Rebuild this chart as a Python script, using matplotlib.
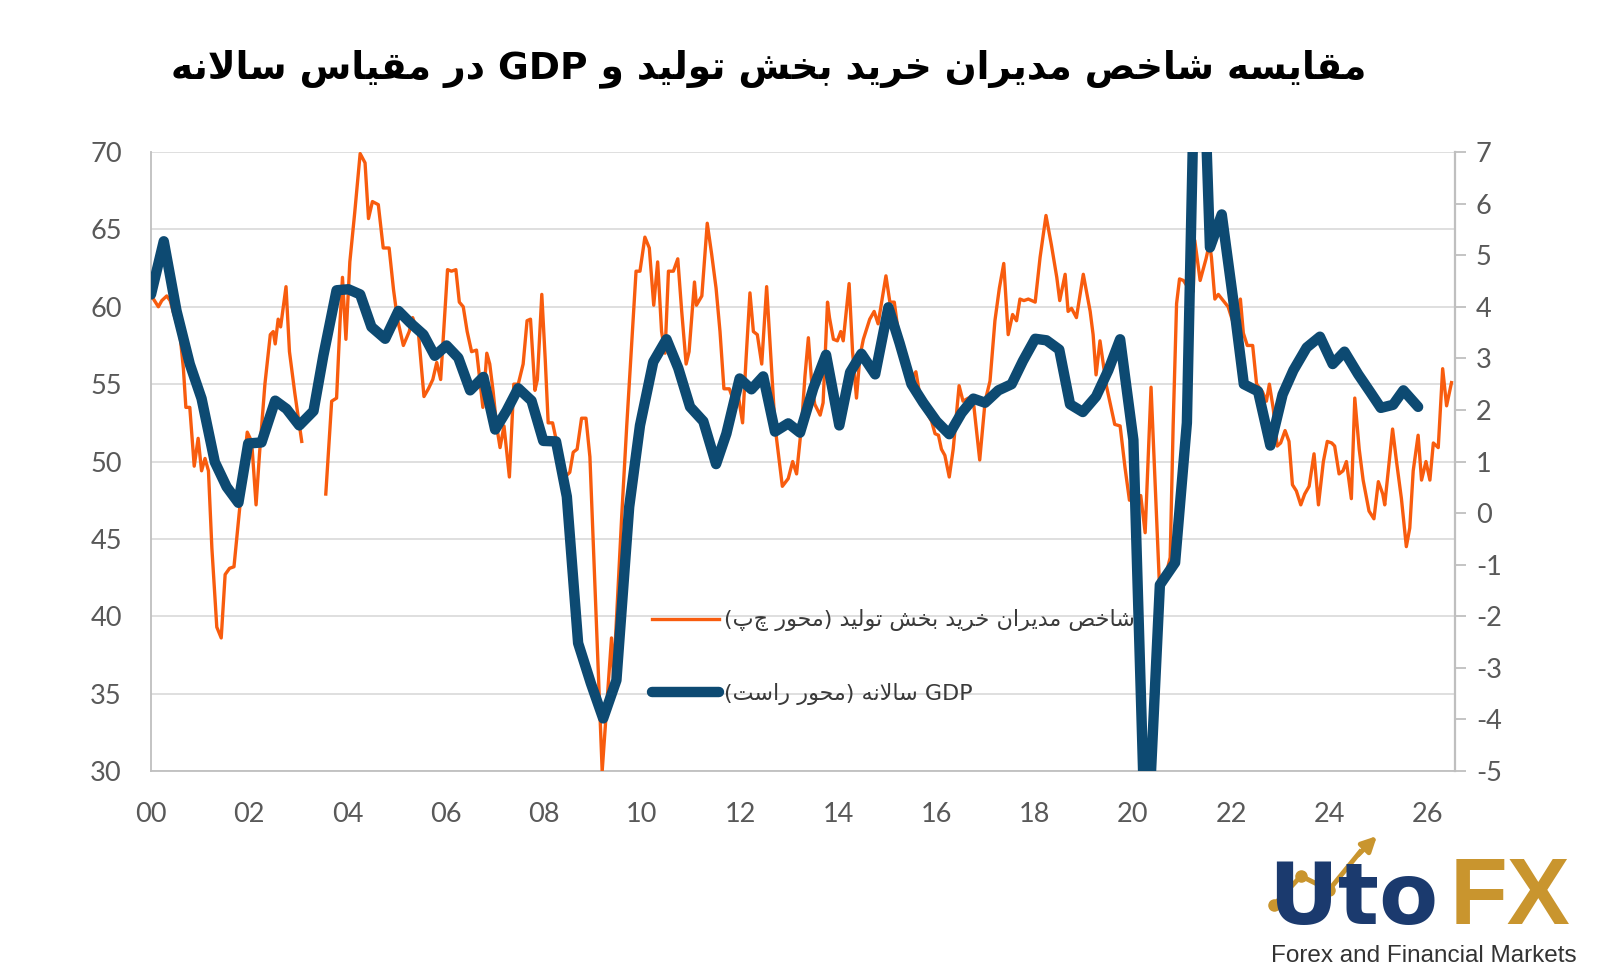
"""
PMI (manufacturing) vs. year-on-year GDP growth, twin-axis line chart.
"""

import re

import matplotlib

matplotlib.use("Agg")
import matplotlib.pyplot as plt
import numpy as np
from matplotlib.lines import Line2D
from matplotlib.patches import FancyArrowPatch

plt.rcParams["font.family"] = ["Lato", "DejaVu Sans"]
plt.rcParams["axes.unicode_minus"] = False

# --- data (decimal years since 2000) -----------------------------------------
pmi_years = [
    0.01, 0.15, 0.22, 0.32, 0.39, 0.45, 0.59, 0.66, 0.71, 0.79, 0.88, 0.96,
    1.03, 1.10, 1.17, 1.24, 1.34, 1.43, 1.51, 1.60, 1.69, 1.81, 1.96, 2.05,
    2.14, 2.21, 2.32, 2.43, 2.49, 2.53, 2.59, 2.64, 2.75, 2.82, 2.93, 3.07,
    3.30,
    3.56, 3.68, 3.78, 3.85, 3.90, 3.97, 4.05, 4.15, 4.26, 4.36, 4.43, 4.51,
    4.63, 4.73, 4.85, 4.94, 5.02, 5.14, 5.26, 5.33, 5.45, 5.56, 5.65, 5.74,
    5.82, 5.90, 6.04, 6.12, 6.21, 6.28, 6.36, 6.44, 6.53, 6.63, 6.76, 6.84,
    6.90, 6.97, 7.04, 7.11, 7.19, 7.30, 7.39, 7.48, 7.58, 7.66, 7.73, 7.82,
    7.87, 7.96, 8.03, 8.09, 8.18, 8.26, 8.33, 8.43, 8.53, 8.60, 8.68, 8.77,
    8.86, 8.94, 9.19, 9.38, 9.42, 9.59, 9.69, 9.79, 9.88, 9.96, 10.06, 10.15,
    10.24, 10.32, 10.40, 10.47, 10.54, 10.64, 10.73, 10.81, 10.90, 10.96,
    11.07, 11.11, 11.22, 11.33, 11.42, 11.51, 11.59, 11.67, 11.78, 11.87,
    11.96, 12.05, 12.12, 12.20, 12.27, 12.35, 12.44, 12.54, 12.62, 12.71,
    12.78, 12.86, 12.98, 13.07, 13.15, 13.25, 13.32, 13.39, 13.46, 13.52,
    13.63, 13.69, 13.78, 13.82, 13.90, 13.98, 14.05, 14.10, 14.22, 14.29,
    14.37, 14.44, 14.51, 14.64, 14.73, 14.81, 14.97, 15.05, 15.14, 15.22,
    15.32, 15.46, 15.58, 15.66, 15.76, 15.90, 15.97, 16.04, 16.10, 16.17,
    16.26, 16.34, 16.46, 16.54, 16.65, 16.75, 16.88, 16.99, 17.09, 17.19,
    17.28, 17.37, 17.46, 17.55, 17.63, 17.70, 17.78, 17.87, 17.94, 18.01,
    18.11, 18.23, 18.34, 18.45, 18.51, 18.62, 18.68, 18.75, 18.85, 18.99,
    19.13, 19.19, 19.25, 19.33, 19.46, 19.63, 19.74, 19.84, 19.93, 20.05,
    20.16, 20.25, 20.37, 20.54, 20.62, 20.76, 20.82, 20.89, 20.95, 21.03,
    21.13, 21.23, 21.26, 21.37, 21.49, 21.56, 21.60, 21.67, 21.74, 21.84,
    21.94, 22.04, 22.15, 22.19, 22.25, 22.33, 22.44, 22.52, 22.64, 22.72,
    22.78, 22.86, 22.94, 23.01, 23.10, 23.18, 23.25, 23.33, 23.42, 23.50,
    23.59, 23.69, 23.78, 23.88, 23.96, 24.05, 24.11, 24.20, 24.28, 24.35,
    24.45, 24.52, 24.61, 24.69, 24.81, 24.91, 25.00, 25.09, 25.13, 25.29,
    25.37, 25.47, 25.57, 25.64, 25.71, 25.81, 25.88, 25.97, 26.05, 26.12,
    26.22, 26.31, 26.39, 26.49,
]
pmi_values = [
    60.7, 60.0, 60.4, 60.7, 60.4, 59.7, 58.2, 56.0, 53.5, 53.5, 49.7, 51.5,
    49.4, 50.2, 49.4, 44.4, 39.3, 38.6, 42.7, 43.1, 43.2, 47.1, 51.9, 51.3,
    47.2, 50.5, 55.0, 58.2, 58.4, 57.6, 59.2, 58.7, 61.3, 57.1, 54.4, 51.3,
    np.nan,
    47.9, 53.9, 54.1, 59.0, 61.9, 57.9, 62.9, 66.1, 69.9, 69.3, 65.7, 66.8,
    66.6, 63.8, 63.8, 61.1, 59.2, 57.5, 58.4, 59.3, 58.2, 54.2, 54.7, 55.3,
    56.4, 55.3, 62.4, 62.3, 62.4, 60.3, 60.0, 58.4, 57.1, 57.2, 53.5, 57.0,
    56.3, 54.5, 52.3, 50.9, 52.3, 49.0, 55.0, 55.0, 56.3, 59.1, 59.2, 54.6,
    55.3, 60.8, 56.6, 52.5, 52.5, 51.3, 49.7, 49.0, 49.3, 50.6, 50.8, 52.8,
    52.8, 50.3, 30.0, 38.6, 36.0, 46.6, 52.3, 57.6, 62.3, 62.3, 64.5, 63.8,
    60.1, 62.9, 58.4, 57.0, 62.3, 62.3, 63.1, 59.7, 56.3, 57.1,
    61.6, 60.1, 60.7, 65.4, 63.4, 61.2, 58.4, 54.7, 54.7, 53.9,
    54.3, 52.5, 56.6, 60.9, 58.4, 58.2, 56.3, 61.3, 57.1, 52.3,
    50.5, 48.4, 48.9, 50.0, 49.2, 52.3, 55.5, 58.0, 55.0, 53.7,
    53.0, 53.8, 60.3, 59.3, 57.9, 57.8, 58.4, 57.8, 61.5, 57.1,
    54.1, 56.8, 57.9, 59.2, 59.7, 58.9, 62.0, 60.3, 60.3, 58.4,
    56.6, 55.2, 55.8, 54.3, 53.4, 52.6, 51.8, 51.7, 50.8, 50.4,
    49.0, 50.8, 54.9, 53.9, 54.1, 53.9, 50.1, 53.9, 55.2, 59.1,
    61.2, 62.8, 58.2, 59.5, 59.1, 60.5, 60.4, 60.5, 60.4, 60.3,
    63.2, 65.9, 64.0, 61.9, 60.4, 62.1, 59.7, 59.9, 59.3, 62.1,
    59.7, 58.2, 55.6, 57.8, 54.9, 52.4, 52.3, 49.6, 47.5, 47.7,
    47.8, 45.4, 54.8, 42.1, 42.0, 43.8, 52.3, 60.2, 61.8, 61.7,
    61.2, 61.0, 64.3, 61.7, 63.1, 64.1, 63.2, 60.5, 60.8, 60.4,
    60.0, 59.0, 59.7, 60.5, 58.3, 57.5, 57.5, 55.0, 54.5, 53.9,
    55.0, 53.4, 51.0, 51.2, 52.0, 51.3, 48.5, 48.1, 47.2, 47.9,
    48.4, 50.5, 47.2, 50.0, 51.3, 51.2, 51.0, 49.2, 49.4, 50.0,
    47.6, 54.1, 50.8, 48.8, 46.8, 46.3, 48.7, 47.9, 47.2, 52.1,
    50.0, 47.6, 44.5, 45.7, 49.4, 51.7, 48.8, 50.0, 48.8, 51.2,
    50.9, 56.0, 53.6, 55.1,
]

gdp_years = [
    0.00, 0.26, 0.52, 0.79, 1.03, 1.30, 1.54, 1.78, 1.98, 2.25, 2.53, 2.76,
    3.02, 3.31, 3.51, 3.78, 4.02, 4.26, 4.49, 4.77, 5.04, 5.28, 5.55, 5.78,
    6.02, 6.26, 6.50, 6.77, 7.01, 7.24, 7.48, 7.75, 7.99, 8.25, 8.47, 8.70,
    8.96, 9.21, 9.48, 9.74, 9.96, 10.23, 10.50, 10.74, 10.98, 11.25, 11.51,
    11.72, 11.99, 12.23, 12.47, 12.71, 12.98, 13.22, 13.49, 13.75, 14.02,
    14.24, 14.47, 14.75, 15.02, 15.25, 15.49, 15.73, 16.00, 16.26, 16.51,
    16.75, 16.99, 17.26, 17.53, 17.76, 18.01, 18.24, 18.50, 18.72, 18.98,
    19.25, 19.50, 19.74, 20.01, 20.27, 20.55, 20.86, 21.10, 21.33, 21.57,
    21.81, 22.04, 22.26, 22.55, 22.80, 23.05, 23.27, 23.54, 23.81, 24.07,
    24.31, 24.59, 24.84, 25.05, 25.30, 25.51, 25.81,
]
gdp_values = [
    4.24, 5.27, 3.92, 2.89, 2.22, 0.99, 0.51, 0.20, 1.35, 1.37, 2.18, 2.02,
    1.70, 1.98, 3.05, 4.32, 4.34, 4.24, 3.61, 3.38, 3.92, 3.69, 3.46, 3.05,
    3.25, 3.01, 2.38, 2.64, 1.62, 1.98, 2.42, 2.18, 1.40, 1.39, 0.32, -2.52,
    -3.30, -3.98, -3.24, 0.12, 1.70, 2.93, 3.37, 2.81, 2.06, 1.78, 0.95,
    1.54, 2.61, 2.40, 2.65, 1.58, 1.74, 1.56, 2.42, 3.07, 1.70,
    2.73, 3.09, 2.69, 3.99, 3.29, 2.50, 2.14, 1.78, 1.53, 1.94,
    2.22, 2.14, 2.38, 2.50, 2.95, 3.38, 3.35, 3.17, 2.11, 1.96,
    2.26, 2.77, 3.37, 1.42, -7.0, -1.39, -0.96, 1.75, 12.0, 5.15,
    5.79, 4.16, 2.50, 2.36, 1.31, 2.30, 2.77, 3.21, 3.42, 2.89,
    3.13, 2.69, 2.34, 2.04, 2.10, 2.38, 2.06,
]

x_ticks = list(range(0, 27, 2))
x_tick_labels = [f"{t:02d}" for t in x_ticks]

title_text = "مقایسه شاخص مدیران خرید بخش تولید و GDP در مقیاس سالانه"
pmi_label = "شاخص مدیران خرید بخش تولید (محور چپ)"
gdp_label = "GDP سالانه (محور راست)"

ORANGE = "#F85C0E"
NAVY = "#0D4A72"
GRAY = "#595959"
GOLD = "#C9952E"

# --- minimal Persian shaping (presentation forms) + visual ordering ----------
FORMS = {
    # isolated, final, initial, medial
    "ا": ("\uFE8D", "\uFE8E", None, None),
    "ب": ("\uFE8F", "\uFE90", "\uFE91", "\uFE92"),
    "ت": ("\uFE95", "\uFE96", "\uFE97", "\uFE98"),
    "ح": ("\uFEA1", "\uFEA2", "\uFEA3", "\uFEA4"),
    "خ": ("\uFEA5", "\uFEA6", "\uFEA7", "\uFEA8"),
    "د": ("\uFEA9", "\uFEAA", None, None),
    "ر": ("\uFEAD", "\uFEAE", None, None),
    "س": ("\uFEB1", "\uFEB2", "\uFEB3", "\uFEB4"),
    "ش": ("\uFEB5", "\uFEB6", "\uFEB7", "\uFEB8"),
    "ص": ("\uFEB9", "\uFEBA", "\uFEBB", "\uFEBC"),
    "ق": ("\uFED5", "\uFED6", "\uFED7", "\uFED8"),
    "ل": ("\uFEDD", "\uFEDE", "\uFEDF", "\uFEE0"),
    "م": ("\uFEE1", "\uFEE2", "\uFEE3", "\uFEE4"),
    "ن": ("\uFEE5", "\uFEE6", "\uFEE7", "\uFEE8"),
    "ه": ("\uFEE9", "\uFEEA", "\uFEEB", "\uFEEC"),
    "و": ("\uFEED", "\uFEEE", None, None),
    "ی": ("\uFBFC", "\uFBFD", "\uFBFE", "\uFBFF"),
    "چ": ("\uFB7A", "\uFB7B", "\uFB7C", "\uFB7D"),
    "LA": ("\uFEFB", "\uFEFC", None, None),
}


def shape(text):
    chars, i = [], 0
    while i < len(text):
        if text[i] == "ل" and i + 1 < len(text) and text[i + 1] == "ا":
            chars.append("LA")
            i += 2
        else:
            chars.append(text[i])
            i += 1

    def links_forward(c):
        return c in FORMS and FORMS[c][2] is not None

    out = []
    for k, c in enumerate(chars):
        if c not in FORMS:
            out.append(c)
            continue
        prev_c = chars[k - 1] if k > 0 else None
        next_c = chars[k + 1] if k + 1 < len(chars) else None
        join_prev = prev_c is not None and links_forward(prev_c)
        join_next = links_forward(c) and next_c in FORMS
        if join_prev and join_next:
            out.append(FORMS[c][3])
        elif join_prev:
            out.append(FORMS[c][1])
        elif join_next:
            out.append(FORMS[c][2])
        else:
            out.append(FORMS[c][0])
    return "".join(out)


def rtl(text):
    shaped = shape(text)
    runs = re.findall(r"[A-Za-z0-9]+|[^A-Za-z0-9]+", shaped)
    mirror = str.maketrans("()", ")(")
    parts = []
    for run in reversed(runs):
        if re.match(r"[A-Za-z0-9]", run):
            parts.append(run)
        else:
            parts.append(run[::-1].translate(mirror))
    return "".join(parts)


# --- figure -------------------------------------------------------------------
fig = plt.figure(figsize=(16.22, 9.69), dpi=100)
fig.patch.set_facecolor("white")
ax = fig.add_axes([0.0931, 0.2043, 0.8039, 0.6388])
ax2 = ax.twinx()

(pmi_line,) = ax.plot(pmi_years, pmi_values, color=ORANGE, lw=2.4, zorder=3)
(gdp_line,) = ax2.plot(gdp_years, gdp_values, color=NAVY, lw=7.5,
                       solid_joinstyle="round", solid_capstyle="round", zorder=4)

ax.set_xlim(0, 26.56)
ax.set_ylim(30, 70)
ax2.set_ylim(-5, 7)

ax.set_xticks(x_ticks)
ax.set_xticklabels(x_tick_labels)
ax.set_yticks(range(30, 71, 5))
ax2.set_yticks(range(-5, 8))

ax.grid(axis="y", color="#d9d9d9", lw=1.2)
ax.set_axisbelow(True)

for spine in ("left", "bottom"):
    ax.spines[spine].set_color("#bfbfbf")
    ax.spines[spine].set_linewidth(1.3)
ax.spines["top"].set_visible(False)
ax.spines["right"].set_visible(False)
ax2.spines["top"].set_visible(False)
ax2.spines["left"].set_visible(False)
ax2.spines["bottom"].set_visible(False)
ax2.spines["right"].set_color("#bfbfbf")
ax2.spines["right"].set_linewidth(1.6)

ax.tick_params(axis="y", length=0, pad=21, labelsize=19.5, labelcolor=GRAY)
ax.tick_params(axis="x", length=0, pad=22, labelsize=19.5, labelcolor=GRAY)
ax2.tick_params(axis="y", length=8, width=1.3, color="#bfbfbf", pad=7,
                labelsize=19.5, labelcolor=GRAY)

leg = ax2.legend(
    [pmi_line, gdp_line],
    [rtl(pmi_label), rtl(gdp_label)],
    loc="center left",
    bbox_to_anchor=(652 / 1622, 1 - 657 / 969),
    bbox_transform=fig.transFigure,
    frameon=False,
    prop={"family": ["DejaVu Sans"], "size": 16},
    handlelength=3.0,
    handletextpad=0.25,
    labelspacing=2.3,
    borderpad=0,
    borderaxespad=0,
)
for txt in leg.get_texts():
    txt.set_color("#3a3a3a")

fig.text(0.474, 0.929, rtl(title_text), family="DejaVu Sans", weight="bold",
         fontsize=27, ha="center", va="center", color="black")

# --- logo ------------------------------------------------------------------------
fig.text(1268 / 1622, 1 - 924 / 969, "Uto", color="#1B3A6E", fontsize=62,
         weight="bold", family="DejaVu Sans", va="baseline")
fig.text(1450 / 1622, 1 - 924 / 969, "FX", color=GOLD, fontsize=68,
         weight="bold", family=["Liberation Sans", "DejaVu Sans"],
         va="baseline")
fig.text(1271 / 1622, 1 - 962 / 969, "Forex and Financial Markets",
         color="#333333", fontsize=17.5, family="Liberation Sans",
         va="baseline")
px = np.array([1274, 1301, 1329, 1360])
py = np.array([905, 876, 890, 852])
fig.add_artist(Line2D(px / 1622, 1 - py / 969, color=GOLD, lw=3.5,
                      marker="o", markersize=8, markevery=[0, 1, 2],
                      transform=fig.transFigure))
fig.add_artist(FancyArrowPatch(
    (1356 / 1622, 1 - 857 / 969), (1379 / 1622, 1 - 834 / 969),
    transform=fig.transFigure, arrowstyle="-|>", mutation_scale=22,
    color=GOLD, lw=3.5))

fig.savefig("out.png", dpi=100)
